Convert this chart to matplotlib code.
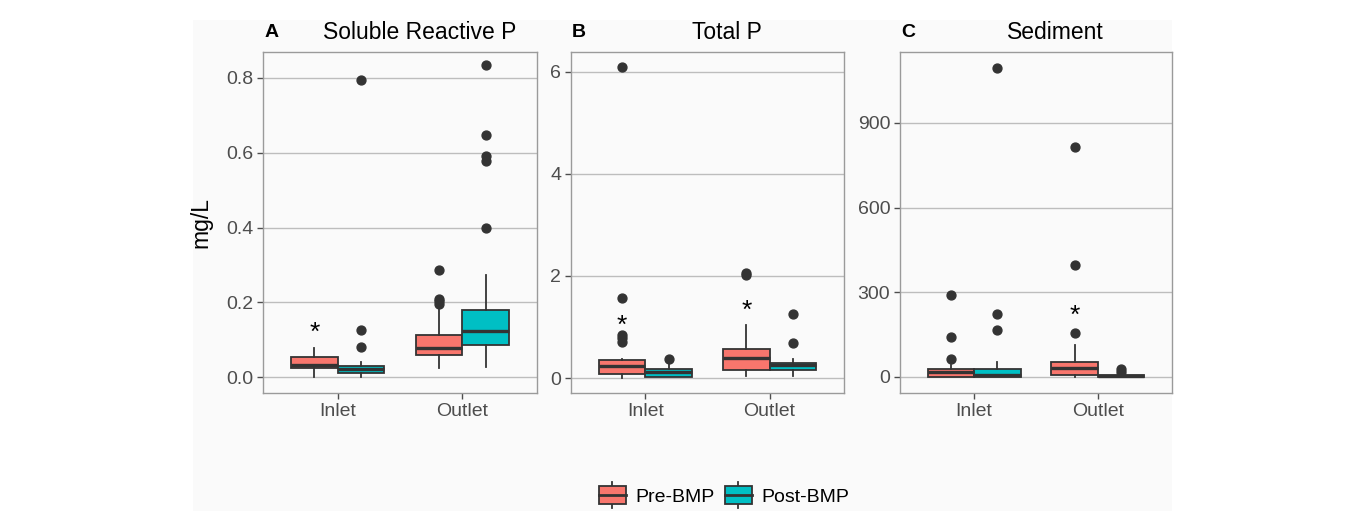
import matplotlib
matplotlib.use("Agg")
import matplotlib.pyplot as plt
from matplotlib.patches import Rectangle
from matplotlib.lines import Line2D
from matplotlib.legend_handler import HandlerBase

plt.rcParams["font.family"] = ["Liberation Sans", "DejaVu Sans"]

# ---- data ----
sites = ["Inlet", "Outlet"]
groups = ["Pre-BMP", "Post-BMP"]
group_colors = ["#F8766D", "#00BFC4"]

panel_letters = ["A", "B", "C"]
panel_titles = ["Soluble Reactive P", "Total P", "Sediment"]

# order inside each list: Inlet Pre, Inlet Post, Outlet Pre, Outlet Post
srp_q1 = [0.026, 0.0125, 0.060, 0.086]
srp_med = [0.034, 0.022, 0.077, 0.124]
srp_q3 = [0.055, 0.031, 0.113, 0.179]
srp_lo = [0.0, 0.0, 0.026, 0.027]
srp_hi = [0.079, 0.041, 0.190, 0.272]
srp_fliers = [[], [0.081, 0.125, 0.793], [0.195, 0.203, 0.210, 0.286],
              [0.398, 0.578, 0.59, 0.648, 0.833]]

tp_q1 = [0.07, 0.025, 0.157, 0.157]
tp_med = [0.235, 0.118, 0.40, 0.25]
tp_q3 = [0.35, 0.17, 0.56, 0.29]
tp_lo = [0.0, 0.02, 0.03, 0.03]
tp_hi = [0.37, 0.29, 1.04, 0.37]
tp_fliers = [[0.71, 0.78, 0.84, 1.57, 6.1], [0.38], [2.02, 2.06], [0.69, 1.25]]

sed_q1 = [1.0, 0.0, 7.0, 0.0]
sed_med = [19.0, 7.0, 31.0, 3.0]
sed_q3 = [27.0, 27.0, 54.0, 8.0]
sed_lo = [0.0, 0.0, 0.0, 0.0]
sed_hi = [42.0, 54.0, 113.0, 12.0]
sed_fliers = [[62.0, 140.0, 290.0], [166.0, 222.0, 1095.0],
              [157.0, 397.0, 815.0], [19.0, 27.0]]

# significance asterisks: (site index, y value)
srp_stars = [(0, 0.118)]
tp_stars = [(0, 1.02), (1, 1.31)]
sed_stars = [(1, 218.0)]

srp_ticks = [0.0, 0.2, 0.4, 0.6, 0.8]
srp_ticklabels = ["0.0", "0.2", "0.4", "0.6", "0.8"]
tp_ticks = [0, 2, 4, 6]
tp_ticklabels = ["0", "2", "4", "6"]
sed_ticks = [0, 300, 600, 900]
sed_ticklabels = ["0", "300", "600", "900"]

panels = [
    (srp_q1, srp_med, srp_q3, srp_lo, srp_hi, srp_fliers, srp_stars,
     srp_ticks, srp_ticklabels, (-0.042, 0.869)),
    (tp_q1, tp_med, tp_q3, tp_lo, tp_hi, tp_fliers, tp_stars,
     tp_ticks, tp_ticklabels, (-0.294, 6.39)),
    (sed_q1, sed_med, sed_q3, sed_lo, sed_hi, sed_fliers, sed_stars,
     sed_ticks, sed_ticklabels, (-56.7, 1151)),
]

# ---- figure ----
W, H = 1357, 511
fig = plt.figure(figsize=(W / 100, H / 100), dpi=100, facecolor="white")
bg = "#FAFAFA"
fig.patches.append(Rectangle((193 / W, 0), (1172 - 193) / W, 1 - 20 / H,
                             transform=fig.transFigure, facecolor=bg,
                             edgecolor="none", zorder=-10))

edge = "#333333"
frame = "#9A9A9A"
grid = "#BDBDBD"
tick_col = "#4D4D4D"

lefts = [263, 571, 900]
widths = [274, 273, 272]
top_px, bot_px = 52, 393

dodge = 0.1875
box_w = 0.375

for i, (q1, med, q3, lo, hi, fl, stars, yt, ytl, ylim) in enumerate(panels):
    ax = fig.add_axes([lefts[i] / W, 1 - bot_px / H, widths[i] / W,
                       (bot_px - top_px) / H])
    ax.set_facecolor(bg)
    for s in ax.spines.values():
        s.set_color(frame)
        s.set_linewidth(1.0)
    ax.set_axisbelow(True)
    ax.yaxis.grid(True, color=grid, linewidth=1.0)

    for k in range(4):
        site = k // 2
        g = k % 2
        pos = site + 1 + (-dodge if g == 0 else dodge)
        stats = [dict(q1=q1[k], med=med[k], q3=q3[k], whislo=lo[k],
                      whishi=hi[k], fliers=fl[k])]
        ax.bxp(stats, positions=[pos], widths=box_w, patch_artist=True,
               showcaps=False,
               boxprops=dict(facecolor=group_colors[g], edgecolor=edge,
                             linewidth=1.3),
               medianprops=dict(color=edge, linewidth=2.4),
               whiskerprops=dict(color=edge, linewidth=1.3),
               flierprops=dict(marker="o", markersize=6.4,
                               markerfacecolor=edge, markeredgecolor=edge))

    for site, yv in stars:
        ax.text(site + 1 - dodge, yv, "*", ha="center", va="center",
                fontsize=19, color="black")

    ax.set_xlim(0.4, 2.6)
    ax.set_ylim(*ylim)
    ax.set_xticks([1, 2])
    ax.set_xticklabels(sites, fontsize=14, color=tick_col)
    ax.set_yticks(yt)
    ax.set_yticklabels(ytl, fontsize=14, color=tick_col)
    ax.tick_params(axis="both", color=tick_col, length=4, width=1.0, pad=3)

    ax.text(0.03, 1.058, panel_letters[i], transform=ax.transAxes,
            ha="center", va="center", fontsize=14, fontweight="bold")
    ax.text(0.573, 1.058, panel_titles[i], transform=ax.transAxes,
            ha="center", va="center", fontsize=16.5)
    if i == 0:
        ax.set_ylabel("mg/L", fontsize=16.5, labelpad=10)


# ---- legend with boxplot-style keys ----
class BoxKey(HandlerBase):
    def __init__(self, color):
        super().__init__()
        self.color = color

    def create_artists(self, legend, orig, xd, yd, width, height, fontsize, trans):
        r = Rectangle((xd, yd - 0.15 * height), width, 1.3 * height,
                      facecolor=self.color, edgecolor=edge, linewidth=1.3,
                      transform=trans)
        m = Line2D([xd, xd + width], [yd + 0.5 * height] * 2, color=edge,
                   linewidth=2.0, transform=trans)
        w1 = Line2D([xd + width / 2] * 2, [yd + 1.15 * height, yd + 1.45 * height],
                    color=edge, linewidth=1.3, transform=trans)
        w2 = Line2D([xd + width / 2] * 2, [yd - 0.15 * height, yd - 0.45 * height],
                    color=edge, linewidth=1.3, transform=trans)
        return [w1, w2, r, m]


h1 = Rectangle((0, 0), 1, 1)
h2 = Rectangle((0, 0), 1, 1)
fig.legend([h1, h2], groups, loc="center", bbox_to_anchor=(724 / W, 1 - 497 / H),
           ncol=2, frameon=False, fontsize=14, handlelength=1.4,
           handletextpad=0.5, columnspacing=0.5,
           handler_map={h1: BoxKey(group_colors[0]), h2: BoxKey(group_colors[1])})

fig.savefig("out.png", dpi=100, facecolor=fig.get_facecolor())
